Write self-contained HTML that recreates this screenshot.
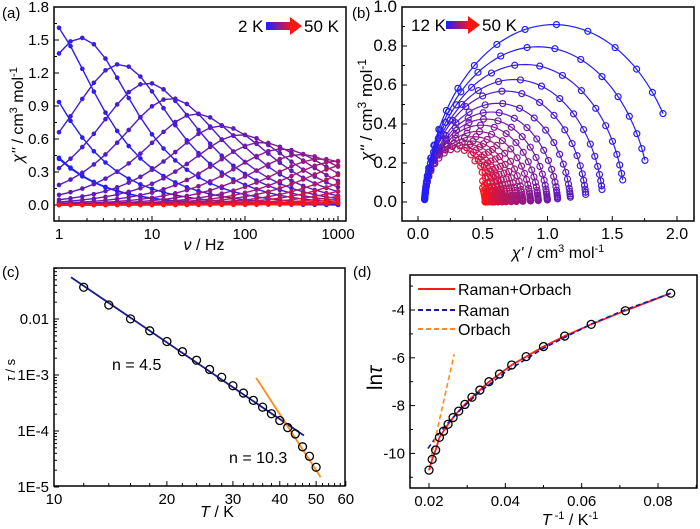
<!DOCTYPE html>
<html><head><meta charset="utf-8"><style>
html,body{margin:0;padding:0;background:#fff}
svg{display:block;font-family:"Liberation Sans",Arial,sans-serif}
</style></head><body>
<svg id="fig" width="700" height="529" viewBox="0 0 700 529" xmlns="http://www.w3.org/2000/svg">
<defs>
<linearGradient id="grad" x1="0" x2="1" y1="0" y2="0"><stop offset="0" stop-color="#1e1eff"/><stop offset="0.5" stop-color="#8e198a"/><stop offset="1" stop-color="#ff1414"/></linearGradient>
</defs>
<g id="pa"></g>
<g id="pb"></g>
<g id="pc"></g>
<g id="pd"></g>
<g font-size="15" fill="#000">
<text x="2" y="18">(a)</text>
<text x="352" y="18">(b)</text>
<text x="2" y="277">(c)</text>
<text x="353" y="277">(d)</text>
</g>
<g font-size="17">
<text x="238" y="32">2 K</text>
<rect x="266" y="22" width="26" height="8" fill="url(#grad)"/>
<polygon points="290,17 302,26 290,35" fill="#ff1414"/>
<text x="304" y="32">50 K</text>
</g>
<g font-size="17">
<text x="411" y="31">12 K</text>
<rect x="446" y="21" width="24" height="8" fill="url(#grad)"/>
<polygon points="468,16 480,25 468,34" fill="#ff1414"/>
<text x="482" y="31">50 K</text>
</g>
<g font-size="16">
<text x="204" y="250" text-anchor="middle"><tspan font-style="italic">ν</tspan> / Hz</text>
<text transform="translate(23,115) rotate(-90)" text-anchor="middle"><tspan font-style="italic">χ''</tspan> / cm<tspan dy="-6" font-size="11">3</tspan><tspan dy="6"> mol</tspan><tspan dy="-6" font-size="11">-1</tspan></text>
<text x="558" y="258" text-anchor="middle"><tspan font-style="italic">χ'</tspan> / cm<tspan dy="-6" font-size="11">3</tspan><tspan dy="6"> mol</tspan><tspan dy="-6" font-size="11">-1</tspan></text>
<text transform="translate(372,110) rotate(-90)" text-anchor="middle" font-size="17"><tspan font-style="italic">χ''</tspan> / cm<tspan dy="-6" font-size="12">3</tspan><tspan dy="6"> mol</tspan><tspan dy="-6" font-size="12">-1</tspan></text>
<text x="217" y="517" text-anchor="middle"><tspan font-style="italic">T</tspan>  / K</text>
<text transform="translate(15,370) rotate(-90)" text-anchor="middle" font-size="13"><tspan font-style="italic">τ</tspan> / s</text>
<text x="570" y="525" text-anchor="middle"><tspan font-style="italic">T</tspan><tspan dy="-6" font-size="11"> -1</tspan><tspan dy="6"> / K</tspan><tspan dy="-6" font-size="11">-1</tspan></text>
<text transform="translate(382,378) rotate(-90)" text-anchor="middle" font-size="21">ln<tspan font-style="italic">τ</tspan></text>
<text x="112" y="370">n = 4.5</text>
<text x="229" y="463">n = 10.3</text>
</g>
<g font-size="16">
<line x1="418" y1="289" x2="455" y2="289" stroke="#ff1a1a" stroke-width="2"/>
<text x="458" y="295">Raman+Orbach</text>
<line x1="418" y1="310" x2="455" y2="310" stroke="#1a1aa0" stroke-width="2" stroke-dasharray="5,3"/>
<text x="458" y="316">Raman</text>
<line x1="418" y1="329" x2="455" y2="329" stroke="#ff8c1a" stroke-width="2" stroke-dasharray="5,3"/>
<text x="458" y="335">Orbach</text>
</g>
</svg>
<script>
// ---------- data ----------
const freqs=[1,1.33,1.78,2.37,3.16,4.22,5.62,7.5,10,13.3,17.8,23.7,31.6,42.2,56.2,75,100,133,178,237,316,422,562,750,1000];
const aPeakF=[0.1,0.11,0.28,0.65,1.7,4.5,9,16,30,55,90,150,250,400,650,1000,1500,2500,4000,7000,12000,20000,40000,80000];
const aPeakH=[1.55,1.4,1.54,1.72,1.52,1.28,1.11,0.97,0.83,0.72,0.64,0.57,0.51,0.46,0.42,0.40,0.38,0.36,0.35,0.34,0.33,0.33,0.32,0.32];
const aTicksY=[0,0.3,0.6,0.9,1.2,1.5,1.8];
const aTickLabY=["0.0","0.3","0.6","0.9","1.2","1.5","1.8"];
const aTicksX=[1,10,100,1000];
const bTemps=[12,14,16,18,20,22,24,26,28,30,32,34,36,38,40,42,44,46,48,50];
const bChiT=[2.05,1.8,1.6,1.43,1.3,1.18,1.08,1.0,0.93,0.87,0.81,0.76,0.72,0.68,0.65,0.62,0.59,0.57,0.54,0.52];
const bChiS=[0.05,0.05,0.05,0.05,0.05,0.05,0.05,0.05,0.05,0.05,0.05,0.05,0.05,0.05,0.05,0.05,0.05,0.05,0.05,0.05];
const bAlpha=[0.06,0.06,0.06,0.06,0.06,0.07,0.07,0.07,0.07,0.08,0.08,0.08,0.08,0.08,0.08,0.08,0.08,0.08,0.08,0.08];
const bTicksX=[0,0.5,1,1.5,2];
const bTickLabX=["0.0","0.5","1.0","1.5","2.0"];
const bTicksY=[0,0.2,0.4,0.6,0.8,1];
const bTickLabY=["0.0","0.2","0.4","0.6","0.8","1.0"];
const cTemps=[12,14,16,18,20,22,24,26,28,30,32,34,36,38,40,42,44,46,48,50];
const lnTau=[-3.30,-4.03,-4.60,-5.09,-5.53,-5.95,-6.30,-6.68,-7.00,-7.35,-7.65,-7.95,-8.23,-8.50,-8.78,-9.07,-9.33,-9.86,-10.25,-10.70];
const cRamanT=[11.1,46.4];
const cRamanTau=[0.0556,8.3e-5];
const cOrbachT=[34.6,51.4];
const cOrbachTau=[8.9e-4,1.5e-5];
const cTicksY=[0.01,1e-3,1e-4,1e-5];
const cTickLabY=["0.01","1E-3","1E-4","1E-5"];
const cTicksX=[10,20,30,40,50,60];
const dRamanInvT=[0.0833,0.0714,0.0625,0.05,0.04,0.0333,0.0286,0.025,0.0222,0.0195];
const dRamanLn=[-3.3,-3.99,-4.59,-5.6,-6.6,-7.42,-8.12,-8.72,-9.25,-9.84];
const dOrbachInvT=[0.0205,0.0266];
const dOrbachLn=[-10.2,-5.85];
const dTicksX=[0.02,0.04,0.06,0.08];
const dTicksY=[-4,-6,-8,-10];

// ---------- helpers ----------
const NS="http://www.w3.org/2000/svg";
function mk(tag,attrs,parent){const e=document.createElementNS(NS,tag);for(const k in attrs)e.setAttribute(k,attrs[k]);parent.appendChild(e);return e;}
function col(t){const r=Math.round(30+225*t),g=Math.round(30-10*t),b=Math.round(255-235*t);return `rgb(${r},${g},${b})`;}
const L=Math.log10;
const xA=f=>59+93*L(f), yA=v=>205-110*v;
const xB=v=>418+129.5*v, yB=v=>202-195*v;
const xC=T=>54+375*L(T/10), yC=t=>319-56*(L(t)+2);
const xD=v=>429+3817*(v-0.02), yD=v=>310-23.9*(v+4);

function frame(g,x0,y0,x1,y1,name){
  const r=mk('rect',{x:x0,y:y0,width:x1-x0,height:y1-y0,fill:'none',stroke:'#000','stroke-width':1.5},g);
  
  
}
function tickX(g,x,y1,len,lab,name,fs){
  const t=mk('line',{x1:x,x2:x,y1:y1,y2:y1-len,stroke:'#000','stroke-width':1},g);
  
  
  if(lab!==null){const tx=mk('text',{x:x,y:y1+18,'text-anchor':'middle','font-size':fs||15},g);tx.textContent=lab;
    
    }
}
function tickY(g,x0,y,len,lab,name,fs){
  const t=mk('line',{x1:x0,x2:x0+len,y1:y,y2:y,stroke:'#000','stroke-width':1},g);
  
  
  if(lab!==null){const tx=mk('text',{x:x0-5,y:y+5,'text-anchor':'end','font-size':fs||15},g);tx.textContent=lab;
    
    }
}

// ---------- panel A ----------
(function(){
const g=document.getElementById('pa');
frame(g,54,7,346,221,'plot-frame-a');
aTicksY.forEach((v,i)=>{tickY(g,54,yA(v),5,aTickLabY[i],'y-tick-a');tickY(g,54,yA(v+0.15),3,null,'y-minor-tick-a');});
aTicksX.forEach(f=>{tickX(g,xA(f),221,5,String(f),'x-tick-a');
  if(f<1000)for(let m=2;m<10;m++)tickX(g,xA(f*m),221,3,null,'x-minor-tick-a');});
const n=aPeakF.length;
aPeakF.forEach((fp,i)=>{
  const c=col(Math.pow(i/(n-1),1.3));
  const pts=freqs.map(f=>{const x=Math.pow(f/fp,0.85);return [xA(f),yA(2*aPeakH[i]*x/(1+x*x))];});
  const pl=mk('polyline',{points:pts.map(p=>p.join(',')).join(' '),fill:'none',stroke:c,'stroke-width':1.4},g);
  
  
  pts.forEach(p=>{const d=mk('circle',{cx:p[0],cy:p[1],r:2.3,fill:c},g);
    
    });
});
})();

// ---------- panel B ----------
(function(){
const g=document.getElementById('pb');
frame(g,402,7,694,221,'plot-frame-b');
bTicksY.forEach((v,i)=>{tickY(g,402,yB(v),5,bTickLabY[i],'y-tick-b',17);if(v<1)tickY(g,402,yB(v+0.1),3,null,'y-minor-tick-b');});
bTicksX.forEach((v,i)=>{tickX(g,xB(v),221,5,bTickLabX[i],'x-tick-b',16);tickX(g,xB(v+0.25),221,3,null,'x-minor-tick-b');});
function cc(i,f){
  const tau=Math.exp(lnTau[i]);const a=bAlpha[i];const w=2*Math.PI*f*tau;
  const m=Math.pow(w,1-a),ph=(1-a)*Math.PI/2;
  const re=1+m*Math.cos(ph),im=m*Math.sin(ph),d=re*re+im*im;
  const D=bChiT[i]-bChiS[i];
  return [bChiS[i]+D*re/d, D*im/d];
}
const n=bTemps.length;
for(let i=n-1;i>=0;i--){
  const c=col(i/(n-1));
  const line=[];
  for(let k=0;k<=120;k++){const f=Math.pow(10,3*k/120);const p=cc(i,f);line.push(xB(p[0])+','+yB(p[1]));}
  const pl=mk('polyline',{points:line.join(' '),fill:'none',stroke:c,'stroke-width':1.2},g);
  
  
  freqs.forEach(f=>{const p=cc(i,f);const d=mk('circle',{cx:xB(p[0]),cy:yB(p[1]),r:3,fill:'none',stroke:c,'stroke-width':1.2},g);
    
    });
}
})();

// ---------- panel C ----------
(function(){
const g=document.getElementById('pc');
frame(g,54,268,345,486,'plot-frame-c');
cTicksY.forEach((v,i)=>{tickY(g,54,yC(v),5,cTickLabY[i],'y-tick-c');
  if(i>0)for(let m=2;m<10;m++)tickY(g,54,yC(v*m),3,null,'y-minor-tick-c');});
for(let m=2;m<9;m++)tickY(g,54,yC(0.01*m),3,null,'y-minor-tick-c');
cTicksX.forEach(T=>{tickX(g,xC(T),486,5,String(T),'x-tick-c');
  for(let k=1;k<5;k++){if(T<60)tickX(g,xC(T+2*k),486,3,null,'x-minor-tick-c');}});
const rl=mk('line',{x1:xC(cRamanT[0]),y1:yC(cRamanTau[0]),x2:xC(cRamanT[1]),y2:yC(cRamanTau[1]),stroke:'#1a1a8c','stroke-width':1.8},g);


const ol=mk('line',{x1:xC(cOrbachT[0]),y1:yC(cOrbachTau[0]),x2:xC(cOrbachT[1]),y2:yC(cOrbachTau[1]),stroke:'#ff8c1a','stroke-width':1.8},g);


cTemps.forEach((T,i)=>{const d=mk('circle',{cx:xC(T),cy:yC(Math.exp(lnTau[i])),r:4,fill:'none',stroke:'#000','stroke-width':1.3},g);
  
  });
})();

// ---------- panel D ----------
(function(){
const g=document.getElementById('pd');
frame(g,410,275,697,488,'plot-frame-d');
dTicksY.forEach(v=>{tickY(g,410,yD(v),5,String(v),'y-tick-d');tickY(g,410,yD(v+1),3,null,'y-minor-tick-d');});
tickY(g,410,yD(-11),3,null,'y-minor-tick-d');
dTicksX.forEach(v=>{tickX(g,xD(v),488,5,v.toFixed(2),'x-tick-d');tickX(g,xD(v+0.01),488,3,null,'x-minor-tick-d');});
const inv=cTemps.map(T=>1/T);
const rp=[[xD(0.0203),yD(-10.6)]].concat(inv.map((v,i)=>[xD(v),yD(lnTau[i])]).reverse());
const red=mk('polyline',{points:rp.map(p=>p.join(',')).join(' '),fill:'none',stroke:'#ff1a1a','stroke-width':1.8},g);


const bl=mk('polyline',{points:dRamanInvT.map((v,i)=>xD(v)+','+yD(dRamanLn[i])).join(' '),fill:'none',stroke:'#1a1aa0','stroke-width':1.6,'stroke-dasharray':'5,3'},g);


const or=mk('polyline',{points:dOrbachInvT.map((v,i)=>xD(v)+','+yD(dOrbachLn[i])).join(' '),fill:'none',stroke:'#ff8c1a','stroke-width':1.6,'stroke-dasharray':'5,3'},g);


inv.forEach((v,i)=>{const d=mk('circle',{cx:xD(v),cy:yD(lnTau[i]),r:4,fill:'none',stroke:'#000','stroke-width':1.3},g);
  
  });
})();
</script>
</body></html>
